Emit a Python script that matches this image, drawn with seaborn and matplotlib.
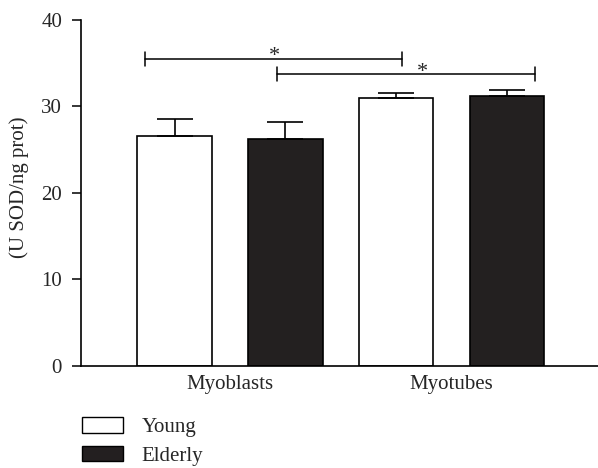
import pandas as pd
import matplotlib.pyplot as plt
import seaborn as sns
from matplotlib.patches import Patch

# ── Data ───────────────────────────────────────────────────
cells = ["Myoblasts", "Myotubes"]
groups = ["Young", "Elderly"]
young_mean = [26.6, 31.0]
young_sem = [1.9, 0.56]
elderly_mean = [26.25, 31.25]
elderly_sem = [1.9, 0.7]

df = pd.DataFrame({
    "cell": cells * 2,
    "group": ["Young"] * 2 + ["Elderly"] * 2,
    "sod": young_mean + elderly_mean,
})
sems = {"Young": young_sem, "Elderly": elderly_sem}
colors = {"Young": "white", "Elderly": "#231f20"}

# ── Style ──────────────────────────────────────────────────
sns.set_theme(style="ticks")
plt.rcParams["font.family"] = ["Liberation Serif", "DejaVu Serif"]

fig = plt.figure(figsize=(5.98, 4.68), dpi=100)
ax = fig.add_axes([0.1355, 0.2186, 0.8645, 0.7387])

sns.barplot(data=df, x="cell", y="sod", hue="group", hue_order=groups,
            palette=colors, width=1.0, gap=0.33, edgecolor="black",
            linewidth=1.2, legend=False, ax=ax)

# one-sided error bars (SEM)
for cont, g in zip(ax.containers, groups):
    xs = [b.get_x() + b.get_width() / 2 for b in cont]
    hs = [b.get_height() for b in cont]
    ax.errorbar(xs, hs, yerr=[[0] * len(xs), sems[g]], fmt="none",
                ecolor="black", elinewidth=1.2, capsize=13, capthick=1.2,
                zorder=1)

# significance brackets
def bracket(x0, x1, y, star_x):
    ax.plot([x0, x1], [y, y], color="black", lw=1.1, clip_on=False)
    for xx in (x0, x1):
        ax.plot([xx, xx], [y - 0.8, y + 0.8], color="black", lw=1.1, clip_on=False)
    ax.text(star_x, y - 0.3, "*", ha="center", va="baseline", fontsize=16)

bracket(-0.383, 0.776, 35.5, 0.200)
bracket(0.213, 1.375, 33.75, 0.866)

ax.set_xlim(-0.672, 1.66)
ax.set_ylim(0, 40)
ax.set_yticks([0, 10, 20, 30, 40])
ax.set_xlabel("")
ax.set_ylabel("(U SOD/ng prot)", fontsize=15, labelpad=9)
ax.yaxis.label.set_y(0.515)
ax.tick_params(axis="y", length=6.7, width=1.1, labelsize=15, pad=7, color="black")
ax.tick_params(axis="x", length=0, labelsize=15, pad=7)
sns.despine(ax=ax)
for s in ("left", "bottom"):
    ax.spines[s].set_linewidth(1.2)
    ax.spines[s].set_color("black")

handles = [Patch(facecolor=colors[g], edgecolor="black", linewidth=1.0, label=g)
           for g in groups]
fig.legend(handles=handles, loc="upper left", bbox_to_anchor=(0.1366, 0.108),
           frameon=False, fontsize=15, handlelength=2.0, handleheight=0.77,
           labelspacing=0.4, handletextpad=0.88, borderpad=0, borderaxespad=0)

plt.savefig("out.png", dpi=100)
plt.close()
